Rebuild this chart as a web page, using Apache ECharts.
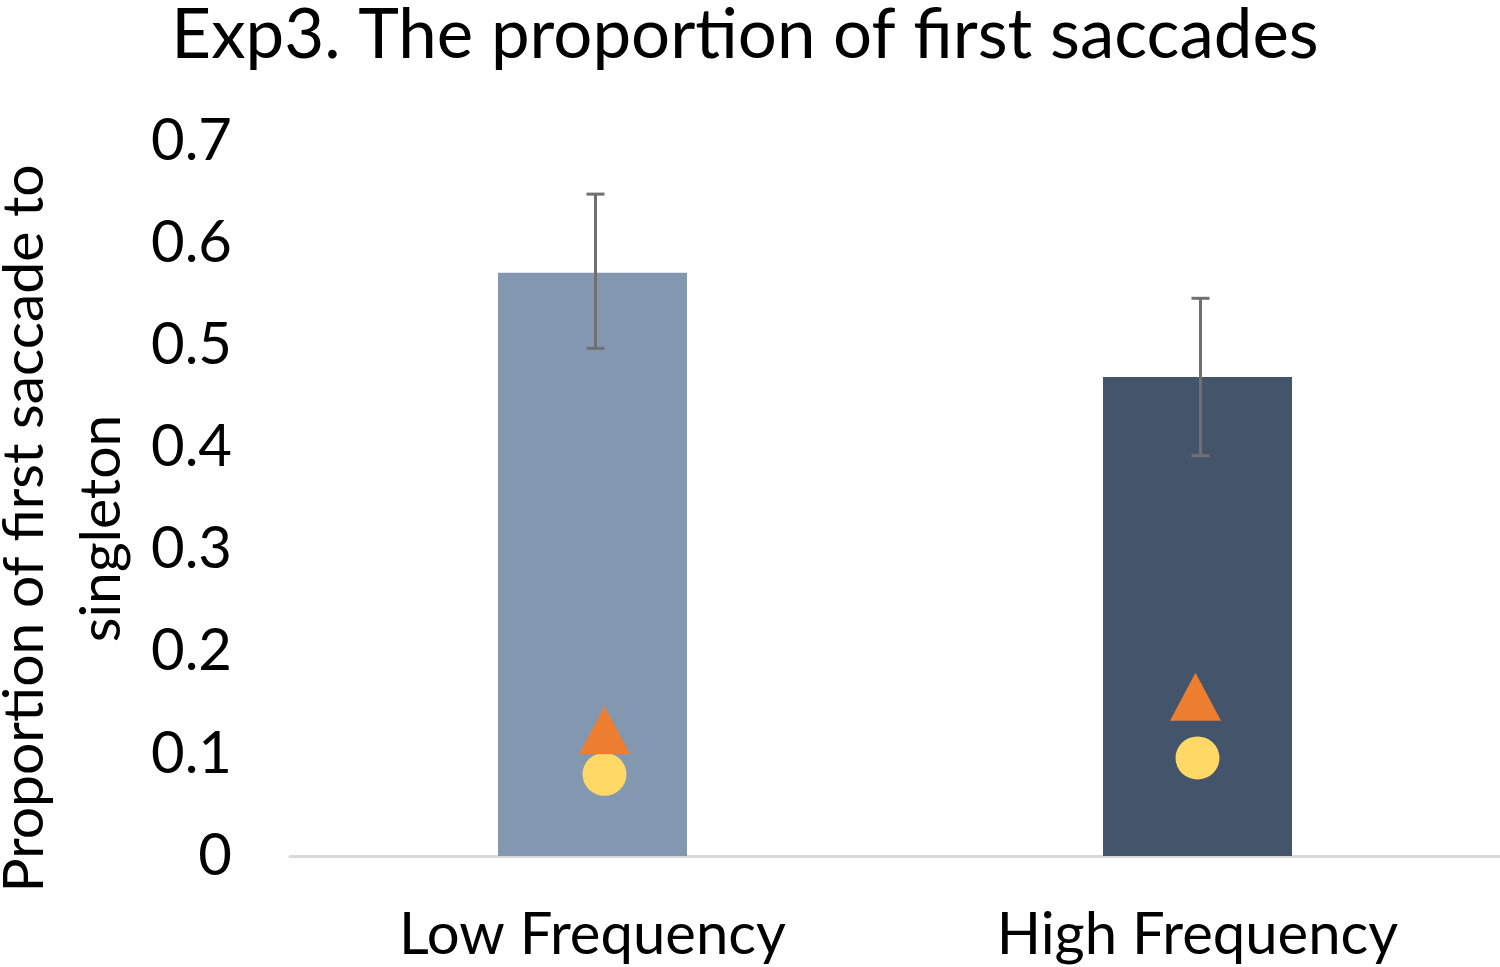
<!DOCTYPE html>
<html>
<head>
<meta charset="utf-8">
<script src="https://cdn.jsdelivr.net/npm/echarts@6/dist/echarts.min.js"></script>
<style>
  html, body { margin: 0; padding: 0; background: #fff; }
  #chart { width: 1500px; height: 967px; }
</style>
</head>
<body>
<div id="chart"></div>
<script>
// data
var categories = ['Low Frequency', 'High Frequency'];
var barValues = [0.571, 0.469];
var errLow = [0.497, 0.392];
var errHigh = [0.648, 0.546];
var triangleValues = [0.123, 0.156];
var circleValues = [0.080, 0.096];
var yTicks = [0, 0.1, 0.2, 0.3, 0.4, 0.5, 0.6, 0.7];

var barColors = ['#8497B0', '#44546A'];
var font = 'Lato, "Open Sans", sans-serif';

var chart = echarts.init(document.getElementById('chart'));

var option = {
  animation: false,
  title: {
    text: 'Exp3. The proportion of first saccades',
    left: 740,
    textAlign: 'center',
    top: -4,
    textStyle: { fontFamily: font, fontWeight: 'normal', fontSize: 69, color: '#000' }
  },
  grid: { left: 290, right: 0, top: 141, bottom: 111, containLabel: false, outerBoundsMode: 'none' },
  xAxis: {
    type: 'category',
    data: categories,
    axisTick: { show: false },
    axisLine: { lineStyle: { color: '#D9D9D9', width: 3 } },
    axisLabel: { fontFamily: font, fontSize: 58, color: '#000', margin: 50 }
  },
  yAxis: {
    type: 'value',
    min: yTicks[0],
    max: yTicks[yTicks.length - 1],
    interval: 0.1,
    splitLine: { show: false },
    axisLine: { show: false },
    axisTick: { show: false },
    axisLabel: {
      fontFamily: font, fontSize: 58, color: '#000', margin: 58,
      formatter: function (v) { return v === 0 ? '0' : v.toFixed(1); }
    },
    name: 'Proportion of first saccade to\nsingleton',
    nameLocation: 'middle',
    nameGap: 150,
    nameTextStyle: {
      fontFamily: font, fontSize: 57, color: '#000', lineHeight: 77,
      padding: [0, 60, 0, 0]
    }
  },
  series: [
    {
      type: 'bar',
      barWidth: 189,
      data: barValues.map(function (v, i) {
        return { value: v, itemStyle: { color: barColors[i] } };
      }),
      z: 1
    },
    {
      type: 'custom',
      z: 3,
      data: categories.map(function (c, i) { return [i, errLow[i], errHigh[i]]; }),
      renderItem: function (params, api) {
        var lo = api.coord([api.value(0), api.value(1)]);
        var hi = api.coord([api.value(0), api.value(2)]);
        var x = lo[0] + 3;
        var cap = 9;
        var style = { stroke: '#707070', lineWidth: 3 };
        return {
          type: 'group',
          children: [
            { type: 'line', shape: { x1: x, y1: lo[1], x2: x, y2: hi[1] }, style: style },
            { type: 'line', shape: { x1: x - cap, y1: lo[1], x2: x + cap, y2: lo[1] }, style: style },
            { type: 'line', shape: { x1: x - cap, y1: hi[1], x2: x + cap, y2: hi[1] }, style: style }
          ]
        };
      }
    },
    {
      type: 'scatter',
      symbol: 'circle',
      symbolSize: [44, 43],
      itemStyle: { color: '#FFD966', opacity: 1 },
      data: circleValues.map(function (v, i) {
        return { value: v, symbolOffset: i === 0 ? [12, 0] : [0, 0] };
      }),
      z: 4
    },
    {
      type: 'scatter',
      symbol: 'triangle',
      symbolSize: [51, 48],
      itemStyle: { color: '#ED7D31', opacity: 1 },
      data: triangleValues.map(function (v, i) {
        return { value: v, symbolOffset: i === 0 ? [12, 0] : [-2, 0] };
      }),
      z: 5
    }
  ]
};

chart.setOption(option);
</script>
</body>
</html>
